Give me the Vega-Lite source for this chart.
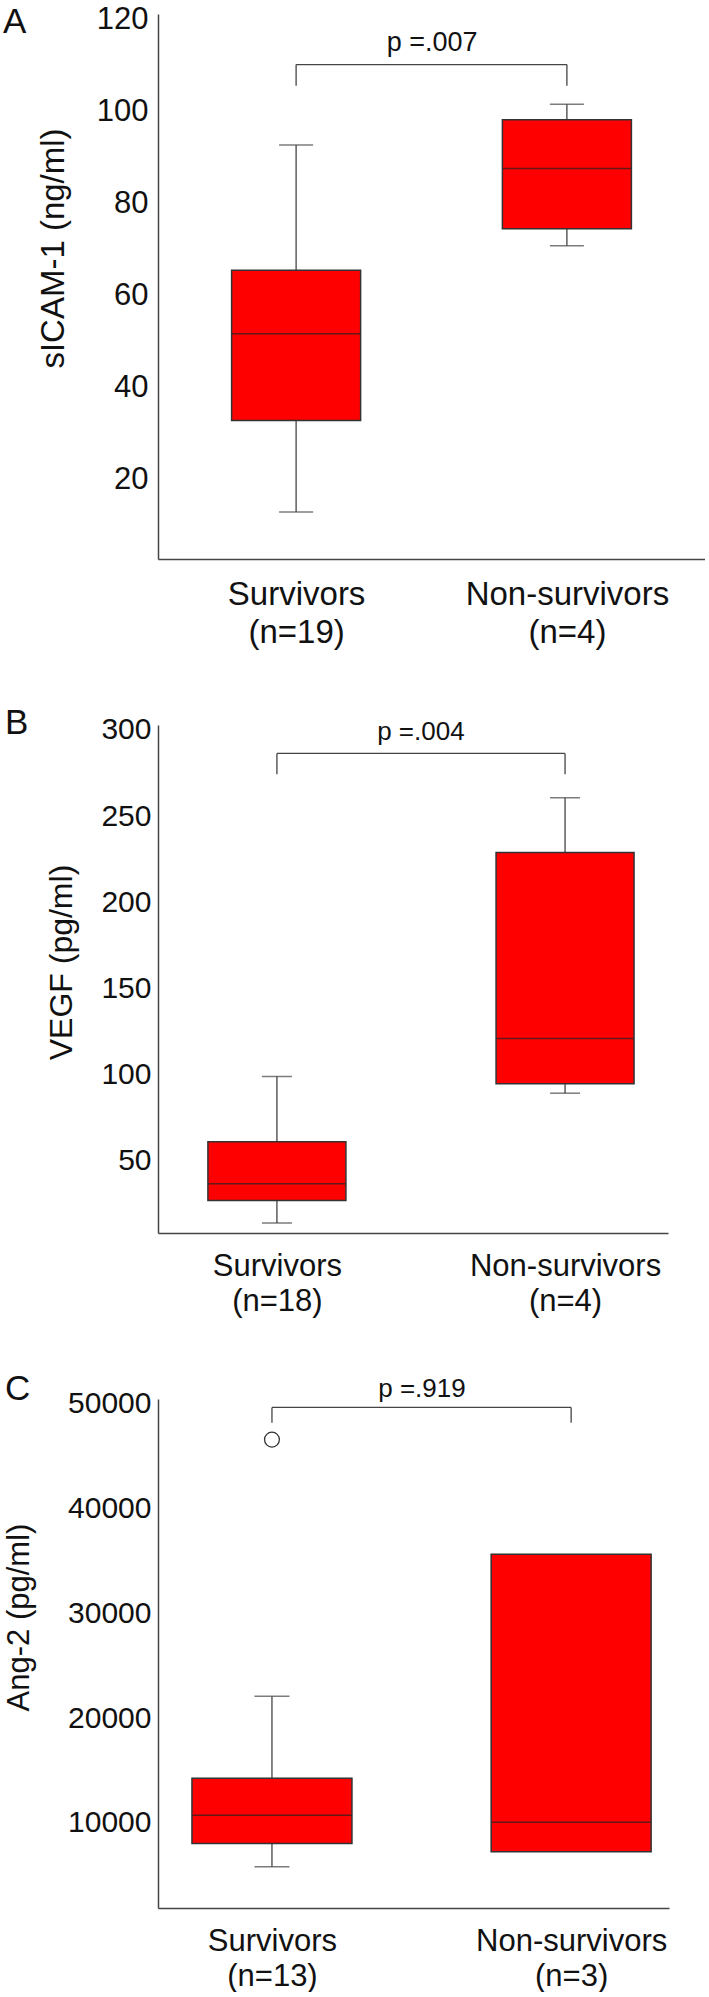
{
  "$schema": "https://vega.github.io/schema/vega-lite/v6.json",
  "autosize": {"type": "pad"},
  "padding": {"left": 3, "top": 3, "right": 0, "bottom": 0},
  "background": "white",
  "spacing": 166,
  "bounds": "flush",
  "config": {
    "font": "Liberation Sans",
    "view": {"stroke": null},
    "axis": {"grid": false, "ticks": false, "domainColor": "#444", "domainWidth": 1.5, "labelColor": "#111", "titleColor": "#111", "titleFontWeight": "normal", "labelOverlap": false, "labelBound": false, "labelFlush": false, "labelLimit": 0},
    "title": {"fontWeight": "normal", "fontSize": 35, "anchor": "start", "frame": "group", "baseline": "top", "color": "#111", "offset": 0}
  },
  "vconcat": [
    {
      "width": 547, "height": 545,
      "title": {"text": "A", "dx": -155, "dy": 40},
      "encoding": {
        "x": {"field": "group", "type": "nominal", "scale": {"type": "point", "padding": 0.51, "align": 0.5, "domain": ["Survivors", "Non-survivors"]},
              "axis": {"title": null, "labelAngle": 0, "labelAlign": "center", "labelFontSize": 33, "labelPadding": 19, "labelLineHeight": 38, "labelBaseline": "top",
                       "labelExpr": "datum.value == 'Survivors' ? ['Survivors', '(n=19)'] : ['Non-survivors', '(n=4)']"}},
        "y": {"field": "q1", "type": "quantitative", "scale": {"domain": [2.8, 121.3], "nice": false, "zero": false},
              "axis": {"title": "sICAM-1 (ng/ml)", "titleFontSize": 33, "titleX": -88, "titleY": 234, "labelFontSize": 31, "labelPadding": 10, "values": [20, 40, 60, 80, 100, 120]}}
      },
      "layer": [
        {
          "data": {"values": [
            {"group": "Survivors", "lower": 13.0, "q1": 32.9, "median": 51.8, "q3": 65.6, "upper": 92.8},
            {"group": "Non-survivors", "lower": 70.9, "q1": 74.6, "median": 87.7, "q3": 98.3, "upper": 101.7}
          ]},
          "layer": [
            {"mark": {"type": "rule", "color": "#444", "strokeWidth": 1.3},
             "encoding": {"y": {"field": "lower"}, "y2": {"field": "upper"}}},
            {"mark": {"type": "tick", "color": "#444", "size": 34, "thickness": 1.5},
             "encoding": {"y": {"field": "lower"}}},
            {"mark": {"type": "tick", "color": "#444", "size": 34, "thickness": 1.5},
             "encoding": {"y": {"field": "upper"}}},
            {"mark": {"type": "bar", "size": 129, "color": "#ff0000", "stroke": "#333", "strokeWidth": 1.5, "orient": "vertical"},
             "encoding": {"y2": {"field": "q3"}}},
            {"mark": {"type": "tick", "color": "#222", "size": 128, "thickness": 1.5},
             "encoding": {"y": {"field": "median"}}}
          ]
        },
        {
          "data": {"values": [{"group": "Survivors", "to": "Non-survivors", "bar": 110.3, "leg": 105.7, "label": "p =.007", "labelPos": 115}]},
          "layer": [
            {"mark": {"type": "rule", "color": "#444", "strokeWidth": 1.3},
             "encoding": {"x2": {"field": "to"}, "y": {"field": "bar"}}},
            {"mark": {"type": "rule", "color": "#444", "strokeWidth": 1.3},
             "encoding": {"y": {"field": "bar"}, "y2": {"field": "leg"}}},
            {"mark": {"type": "rule", "color": "#444", "strokeWidth": 1.3},
             "encoding": {"x": {"field": "to"}, "y": {"field": "bar"}, "y2": {"field": "leg"}}},
            {"mark": {"type": "text", "fontSize": 27, "align": "center", "baseline": "middle", "dx": 136, "color": "#111"},
             "encoding": {"y": {"field": "labelPos"}, "text": {"field": "label"}}}
          ]
        }
      ]
    },
    {
      "width": 510, "height": 508,
      "title": {"text": "B", "dx": -153, "dy": 30},
      "encoding": {
        "x": {"field": "group", "type": "nominal", "scale": {"type": "point", "padding": 0.385, "align": 0.536, "domain": ["Survivors", "Non-survivors"]},
              "axis": {"title": null, "labelAngle": 0, "labelAlign": "center", "labelFontSize": 31, "labelPadding": 18.5, "labelLineHeight": 35, "labelBaseline": "top",
                       "labelExpr": "datum.value == 'Survivors' ? ['Survivors', '(n=18)'] : ['Non-survivors', '(n=4)']"}},
        "y": {"field": "q1", "type": "quantitative", "scale": {"domain": [8.2, 302.9], "nice": false, "zero": false},
              "axis": {"title": "VEGF (pg/ml)", "titleFontSize": 32, "titleX": -80, "titleY": 237, "labelFontSize": 30, "labelPadding": 7, "values": [50, 100, 150, 200, 250, 300]}}
      },
      "layer": [
        {
          "data": {"values": [
            {"group": "Survivors", "lower": 14.0, "q1": 27.0, "median": 36.8, "q3": 61.1, "upper": 99.0},
            {"group": "Non-survivors", "lower": 89.3, "q1": 94.8, "median": 121.0, "q3": 229.0, "upper": 260.7}
          ]},
          "layer": [
            {"mark": {"type": "rule", "color": "#444", "strokeWidth": 1.3},
             "encoding": {"y": {"field": "lower"}, "y2": {"field": "upper"}}},
            {"mark": {"type": "tick", "color": "#444", "size": 30, "thickness": 1.5},
             "encoding": {"y": {"field": "lower"}}},
            {"mark": {"type": "tick", "color": "#444", "size": 30, "thickness": 1.5},
             "encoding": {"y": {"field": "upper"}}},
            {"mark": {"type": "bar", "size": 138, "color": "#ff0000", "stroke": "#333", "strokeWidth": 1.5, "orient": "vertical"},
             "encoding": {"y2": {"field": "q3"}}},
            {"mark": {"type": "tick", "color": "#222", "size": 137, "thickness": 1.5},
             "encoding": {"y": {"field": "median"}}}
          ]
        },
        {
          "data": {"values": [{"group": "Survivors", "to": "Non-survivors", "bar": 286.4, "leg": 274.3, "label": "p =.004", "labelPos": 298.8}]},
          "layer": [
            {"mark": {"type": "rule", "color": "#444", "strokeWidth": 1.3},
             "encoding": {"x2": {"field": "to"}, "y": {"field": "bar"}}},
            {"mark": {"type": "rule", "color": "#444", "strokeWidth": 1.3},
             "encoding": {"y": {"field": "bar"}, "y2": {"field": "leg"}}},
            {"mark": {"type": "rule", "color": "#444", "strokeWidth": 1.3},
             "encoding": {"x": {"field": "to"}, "y": {"field": "bar"}, "y2": {"field": "leg"}}},
            {"mark": {"type": "text", "fontSize": 26, "align": "center", "baseline": "middle", "dx": 144, "color": "#111"},
             "encoding": {"y": {"field": "labelPos"}, "text": {"field": "label"}}}
          ]
        }
      ]
    },
    {
      "width": 511, "height": 509,
      "title": {"text": "C", "dx": -153, "dy": 35},
      "encoding": {
        "x": {"field": "group", "type": "nominal", "scale": {"type": "point", "padding": 0.354, "align": 0.538, "domain": ["Survivors", "Non-survivors"]},
              "axis": {"title": null, "labelAngle": 0, "labelAlign": "center", "labelFontSize": 31, "labelPadding": 18.5, "labelLineHeight": 35, "labelBaseline": "top",
                       "labelExpr": "datum.value == 'Survivors' ? ['Survivors', '(n=13)'] : ['Non-survivors', '(n=3)']"}},
        "y": {"field": "q1", "type": "quantitative", "scale": {"domain": [1885, 50477], "nice": false, "zero": false},
              "axis": {"title": "Ang-2 (pg/ml)", "titleFontSize": 31, "titleX": -123, "titleY": 218, "labelFontSize": 30, "labelPadding": 7, "format": "d", "values": [10000, 20000, 30000, 40000, 50000]}}
      },
      "layer": [
        {
          "data": {"values": [
            {"group": "Survivors", "lower": 5830, "q1": 8050, "median": 10730, "q3": 14260, "upper": 22100},
            {"group": "Non-survivors", "lower": null, "q1": 7250, "median": 10080, "q3": 35660, "upper": null}
          ]},
          "layer": [
            {"mark": {"type": "rule", "color": "#444", "strokeWidth": 1.3},
             "encoding": {"y": {"field": "lower"}, "y2": {"field": "upper"}}},
            {"mark": {"type": "tick", "color": "#444", "size": 35, "thickness": 1.5},
             "encoding": {"y": {"field": "lower"}}},
            {"mark": {"type": "tick", "color": "#444", "size": 35, "thickness": 1.5},
             "encoding": {"y": {"field": "upper"}}},
            {"mark": {"type": "bar", "size": 160, "color": "#ff0000", "stroke": "#333", "strokeWidth": 1.5, "orient": "vertical"},
             "encoding": {"y2": {"field": "q3"}}},
            {"mark": {"type": "tick", "color": "#222", "size": 159, "thickness": 1.5},
             "encoding": {"y": {"field": "median"}}}
          ]
        },
        {
          "data": {"values": [{"group": "Survivors", "outlier": 46600}]},
          "mark": {"type": "point", "shape": "circle", "filled": false, "size": 220, "stroke": "#333", "strokeWidth": 1.3, "opacity": 1},
          "encoding": {"y": {"field": "outlier"}}
        },
        {
          "data": {"values": [{"group": "Survivors", "to": "Non-survivors", "bar": 49668, "leg": 48218, "label": "p =.919", "labelPos": 51450}]},
          "layer": [
            {"mark": {"type": "rule", "color": "#444", "strokeWidth": 1.3},
             "encoding": {"x2": {"field": "to"}, "y": {"field": "bar"}}},
            {"mark": {"type": "rule", "color": "#444", "strokeWidth": 1.3},
             "encoding": {"y": {"field": "bar"}, "y2": {"field": "leg"}}},
            {"mark": {"type": "rule", "color": "#444", "strokeWidth": 1.3},
             "encoding": {"x": {"field": "to"}, "y": {"field": "bar"}, "y2": {"field": "leg"}}},
            {"mark": {"type": "text", "fontSize": 26, "align": "center", "baseline": "middle", "dx": 150, "color": "#111"},
             "encoding": {"y": {"field": "labelPos"}, "text": {"field": "label"}}}
          ]
        }
      ]
    }
  ]
}
